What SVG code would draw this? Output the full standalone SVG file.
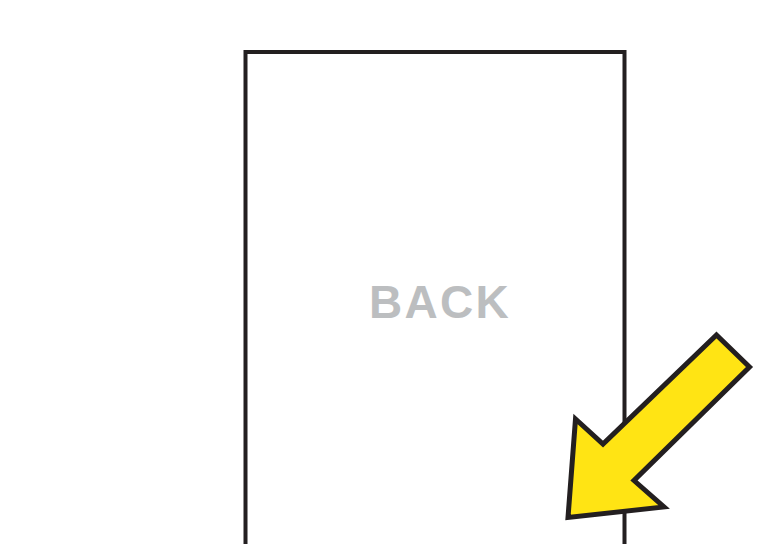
<svg xmlns="http://www.w3.org/2000/svg" width="763" height="544" viewBox="0 0 763 544">
<style>
.outline{fill:none;stroke:#231f20;stroke-width:4}
.arrow{fill:#ffe414;stroke:#231f20;stroke-width:5;stroke-linejoin:miter;stroke-miterlimit:10}
.label{font-family:"Liberation Sans",Arial,sans-serif;font-weight:bold;font-size:46px;fill:#bcbec0;letter-spacing:2.3px}
</style>
<rect width="763" height="544" fill="#ffffff"/>
<g id="back-page">
<path class="outline" d="M245.5,560 V52 H624.5 V560"/>
<text class="label" x="369" y="318">BACK</text>
</g>
<g id="pointer-arrow">
<path class="arrow" d="M716.5,335 L749.5,367 L634,480.5 L664,507 L568,517.5 L575.5,419 L603,444 Z"/>
</g>
</svg>
